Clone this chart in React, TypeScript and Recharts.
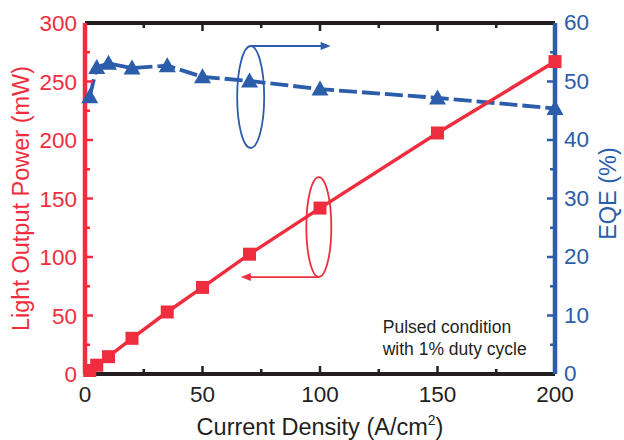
import React from 'react';
import { ComposedChart, Line, XAxis, YAxis, ReferenceDot } from 'recharts';

const RED = '#EE2E3F';
const BLUE = '#2B5DAB';
const BLACK = '#231F20';
const FONT = '"Liberation Sans", Arial, Helvetica, sans-serif';

const currentDensity = [2, 5, 10, 20, 35, 50, 70, 100, 150, 200];
const lightPower = [3, 7.5, 14.8, 30.5, 53, 74, 102.4, 141.8, 206, 267];
const eqe = [47.4, 52.4, 53.1, 52.3, 52.7, 50.8, 50.1, 48.7, 47.2, 45.4];

const xTicks = [0, 25, 50, 75, 100, 125, 150, 175, 200];
const leftTicks = [0, 25, 50, 75, 100, 125, 150, 175, 200, 225, 250, 275, 300];
const rightTicks = [0, 5, 10, 15, 20, 25, 30, 35, 40, 45, 50, 55, 60];

const noteLines = ['Pulsed condition', 'with 1% duty cycle'];

const data = currentDensity.map((x, i) => ({ x, power: lightPower[i], eqe: eqe[i] }));

const TICK_FS = 22.5;

const BottomTick = (props: any) => {
  const { x, y, payload } = props;
  const v = payload.value;
  const major = v % 50 === 0;
  const len = major ? 8 : 5;
  return (
    <g>
      {v !== 0 && v !== 200 && (
        <line x1={x} y1={y} x2={x} y2={y - len} stroke={BLACK} strokeWidth={2.5} />
      )}
      {major && (
        <text x={x} y={y + 28} textAnchor="middle" fill={BLACK} fontSize={TICK_FS} fontFamily={FONT}>
          {v}
        </text>
      )}
    </g>
  );
};

const TopTick = (props: any) => {
  const { x, y, payload } = props;
  const v = payload.value;
  const major = v % 50 === 0;
  const len = major ? 8 : 5;
  if (v === 0 || v === 200) return <g />;
  return <line x1={x} y1={y} x2={x} y2={y + len} stroke={BLACK} strokeWidth={2.5} />;
};

const LeftTick = (props: any) => {
  const { x, y, payload } = props;
  const v = payload.value;
  const major = v % 50 === 0;
  const len = major ? 8 : 5;
  return (
    <g>
      {v !== 0 && v !== 300 && (
        <line x1={x} y1={y} x2={x + len} y2={y} stroke={RED} strokeWidth={2.5} />
      )}
      {major && (
        <text x={x - 8} y={y} dy="0.36em" textAnchor="end" fill={RED} fontSize={TICK_FS} fontFamily={FONT}>
          {v}
        </text>
      )}
    </g>
  );
};

const RightTick = (props: any) => {
  const { x, y, payload } = props;
  const v = payload.value;
  const major = v % 10 === 0;
  const len = major ? 8 : 5;
  return (
    <g>
      {v !== 0 && v !== 60 && (
        <line x1={x} y1={y} x2={x - len} y2={y} stroke={BLUE} strokeWidth={2.5} />
      )}
      {major && (
        <text x={x + 9} y={y} dy="0.33em" textAnchor="start" fill={BLUE} fontSize={TICK_FS} fontFamily={FONT}>
          {v}
        </text>
      )}
    </g>
  );
};

const SquareDot = (props: any) => {
  const { cx, cy, index } = props;
  if (cx == null || cy == null) return <g key={`sq-${index}`} />;
  return <rect key={`sq-${index}`} x={cx - 6.5} y={cy - 6.5} width={13} height={13} fill={RED} />;
};

const TriangleDot = (props: any) => {
  const { cx, cy, index } = props;
  if (cx == null || cy == null) return <g key={`tr-${index}`} />;
  return (
    <polygon
      key={`tr-${index}`}
      points={`${cx},${cy - 8.5} ${cx - 8.5},${cy + 6.5} ${cx + 8.5},${cy + 6.5}`}
      fill={BLUE}
    />
  );
};

const BlueEllipse = (props: any) => {
  const { cx, cy } = props;
  const ry = 51;
  const top = cy - ry;
  return (
    <g>
      <ellipse cx={cx} cy={cy} rx={13.5} ry={ry} fill="none" stroke={BLUE} strokeWidth={1.8} />
      <line x1={cx} y1={top} x2={cx + 72} y2={top} stroke={BLUE} strokeWidth={1.8} />
      <polygon points={`${cx + 80},${top} ${cx + 70},${top - 4} ${cx + 70},${top + 4}`} fill={BLUE} />
    </g>
  );
};

const RedEllipse = (props: any) => {
  const { cx, cy } = props;
  const ry = 50;
  const bot = cy + ry;
  return (
    <g>
      <ellipse cx={cx} cy={cy} rx={12.5} ry={ry} fill="none" stroke={RED} strokeWidth={1.8} />
      <line x1={cx} y1={bot} x2={cx - 70} y2={bot} stroke={RED} strokeWidth={1.8} />
      <polygon points={`${cx - 78},${bot} ${cx - 68},${bot - 4} ${cx - 68},${bot + 4}`} fill={RED} />
    </g>
  );
};

const NoteText = (props: any) => {
  const { cx, cy } = props;
  return (
    <g>
      {noteLines.map((t, i) => (
        <text key={i} x={cx} y={cy + i * 22} fill={BLACK} fontSize={17.5} fontFamily={FONT}>
          {t}
        </text>
      ))}
    </g>
  );
};

const LeftTitle = (props: any) => {
  const vb = props.viewBox || {};
  const cy = vb.y + vb.height / 2;
  const x = 29;
  return (
    <text x={x} y={cy} transform={`rotate(-90, ${x}, ${cy})`} textAnchor="middle" fill={RED} fontSize={23.5} fontFamily={FONT}>
      Light Output Power (mW)
    </text>
  );
};

const RightTitle = (props: any) => {
  const vb = props.viewBox || {};
  const cy = vb.y + vb.height / 2 - 5;
  const x = 616;
  return (
    <text x={x} y={cy} transform={`rotate(-90, ${x}, ${cy})`} textAnchor="middle" fill={BLUE} fontSize={23.5} fontFamily={FONT}>
      EQE (%)
    </text>
  );
};

const BottomTitle = (props: any) => {
  const vb = props.viewBox || {};
  const cx = vb.x + vb.width / 2;
  return (
    <text x={cx} y={435} textAnchor="middle" fill={BLACK} fontSize={23.5} fontFamily={FONT}>
      Current Density (A/cm
      <tspan dy={-10} fontSize={14}>2</tspan>
      <tspan dy={10}>)</tspan>
    </text>
  );
};

export default function App() {
  return (
    <div style={{ position: 'absolute', left: 0, top: 0, width: 624, height: 440, background: '#fff' }}>
      <ComposedChart width={624} height={440} data={data} margin={{ top: 22, right: 0, bottom: 0, left: 0 }}>
        <XAxis
          dataKey="x"
          type="number"
          domain={[0, 200]}
          ticks={xTicks}
          interval={0}
          height={66}
          tickSize={0}
          tickMargin={0}
          tickLine={false}
          axisLine={{ stroke: BLACK, strokeWidth: 4 }}
          tick={<BottomTick />}
          label={<BottomTitle />}
        />
        <XAxis
          xAxisId="top"
          orientation="top"
          dataKey="x"
          type="number"
          domain={[0, 200]}
          ticks={xTicks}
          interval={0}
          height={1}
          tickSize={0}
          tickMargin={0}
          tickLine={false}
          axisLine={{ stroke: BLACK, strokeWidth: 4 }}
          tick={<TopTick />}
        />
        <YAxis
          yAxisId="left"
          orientation="left"
          type="number"
          domain={[0, 300]}
          ticks={leftTicks}
          interval={0}
          width={85}
          tickSize={0}
          tickMargin={0}
          tickLine={false}
          axisLine={{ stroke: RED, strokeWidth: 4.5 }}
          tick={<LeftTick />}
          label={<LeftTitle />}
        />
        <YAxis
          yAxisId="right"
          orientation="right"
          type="number"
          domain={[0, 60]}
          ticks={rightTicks}
          interval={0}
          width={69}
          tickSize={0}
          tickMargin={0}
          tickLine={false}
          axisLine={{ stroke: BLUE, strokeWidth: 4.5 }}
          tick={<RightTick />}
          label={<RightTitle />}
        />
        <Line
          yAxisId="right"
          dataKey="eqe"
          type="linear"
          stroke={BLUE}
          strokeWidth={3.8}
          strokeDasharray="18 5"
          dot={TriangleDot}
          activeDot={false}
          isAnimationActive={false}
        />
        <Line
          yAxisId="left"
          dataKey="power"
          type="linear"
          stroke={RED}
          strokeWidth={3.5}
          dot={SquareDot}
          activeDot={false}
          isAnimationActive={false}
        />
        <ReferenceDot yAxisId="right" x={70.5} y={47.35} shape={BlueEllipse} />
        <ReferenceDot yAxisId="left" x={99.5} y={125.6} shape={RedEllipse} />
        <ReferenceDot yAxisId="left" x={126.7} y={35} shape={NoteText} />
      </ComposedChart>
    </div>
  );
}
